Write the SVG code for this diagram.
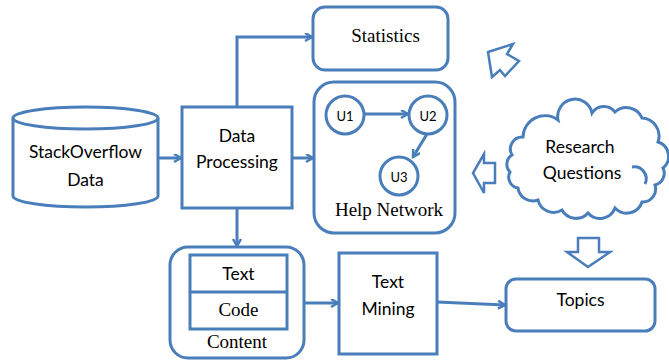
<svg xmlns="http://www.w3.org/2000/svg" width="669" height="360" viewBox="0 0 669 360">
<style>
.s{fill:#fff;stroke:#4a7ebb;stroke-width:3}
.c{fill:none;stroke:#4a7ebb;stroke-width:3}
.b{fill:#fff;stroke:#4a7ebb;stroke-width:2.5;stroke-linejoin:miter}
.t{font-family:Lato,"Open Sans",sans-serif;font-size:17.5px;fill:#000;text-anchor:middle}
.u{font-family:Lato,"Open Sans",sans-serif;font-size:13px;fill:#000;text-anchor:middle}
.r{font-size:19px;fill:#000;text-anchor:middle}
</style>
<defs>
<marker id="ah" markerWidth="10" markerHeight="10" refX="8" refY="4.5" orient="auto" markerUnits="userSpaceOnUse">
<path d="M1,0.5 L8,4.5 L1,8.5" fill="none" stroke="#4a7ebb" stroke-width="2.5"/>
</marker>
</defs>
<rect width="669" height="360" fill="#fff"/>
<g id="stackoverflow">
<path class="s" d="M13,118 L13,196 A72.5,11 0 0 0 158,196 L158,118"/>
<ellipse class="s" cx="85.5" cy="118" rx="72.5" ry="11"/>
<text class="t" x="85.5" y="158">StackOverflow</text>
<text class="t" x="85.5" y="186">Data</text>
</g>
<g id="data-processing">
<rect class="s" x="182" y="107" width="110" height="101"/>
<text class="t" x="237" y="142">Data</text>
<text class="t" x="237" y="168">Processing</text>
</g>
<g id="statistics">
<rect class="s" x="313" y="7" width="135" height="63" rx="12"/>
<text class="r" font-family="'Liberation Serif', 'Times New Roman', serif" x="385.5" y="42">Statistics</text>
</g>
<g id="help-network">
<rect class="s" x="314" y="82" width="141" height="151" rx="20"/>
<g id="u1"><circle class="s" cx="345" cy="115" r="19"/><text class="u" x="345" y="121">U1</text></g>
<g id="u2"><circle class="s" cx="428" cy="115" r="19"/><text class="u" x="428" y="121">U2</text></g>
<g id="u3"><circle class="s" cx="399" cy="176" r="19"/><text class="u" x="399" y="182">U3</text></g>
<text class="r" font-family="'Liberation Serif', 'Times New Roman', serif" x="389" y="216">Help Network</text>
</g>
<g id="content">
<rect class="s" x="170" y="247" width="134" height="111" rx="18"/>
<rect class="s" x="190" y="255" width="97" height="74"/>
<line class="c" x1="190" y1="292" x2="287" y2="292"/>
<text class="t" x="238.5" y="280">Text</text>
<text class="r" font-family="'Liberation Serif', 'Times New Roman', serif" x="238.5" y="316">Code</text>
<text class="r" font-family="'Liberation Serif', 'Times New Roman', serif" x="237" y="348">Content</text>
</g>
<g id="text-mining">
<rect class="s" x="339" y="253" width="98" height="101"/>
<text class="t" x="388" y="288">Text</text>
<text class="t" x="388" y="315">Mining</text>
</g>
<g id="topics">
<rect class="s" x="506" y="279" width="149" height="52" rx="10"/>
<text class="t" x="580.5" y="306">Topics</text>
</g>
<g id="research-questions">
<path class="s" d="M523,137 A22,22 0 0 1 558,120 A14,14 0 0 1 592,113 A14,14 0 0 1 615,112 A17,17 0 0 1 642,118 A18,18 0 0 1 658,142 A15,15 0 0 1 663,168 A12,12 0 0 1 655,185 A13,13 0 0 1 642,202 A16,16 0 0 1 615,208 A16,16 0 0 1 588,213 A16,16 0 0 1 562,210 A16,16 0 0 1 538,200 A15,15 0 0 1 518,188 A11,11 0 0 1 510,172 A11,11 0 0 1 512,155 A12,12 0 0 1 523,137 Z"/>
<path class="c" d="M632,167 A12,12 0 0 1 645,184"/>
<text class="t" x="580" y="153">Research</text>
<text class="t" x="582" y="179">Questions</text>
</g>
<g id="block-arrows">
<polygon class="b" points="578,238 599,238 599,252 610,252 588,267 567,252 578,252"/>
<polygon class="b" points="495,163 495,183 484,183 484,193 473,173 484,154 484,163"/>
<polygon class="b" points="488,52 513,44 507,54 519,61 505,76 500,70 492,77"/>
</g>
<g id="connectors">
<line class="c" x1="158" y1="158" x2="181" y2="158" marker-end="url(#ah)"/>
<line class="c" x1="292" y1="158" x2="313" y2="158" marker-end="url(#ah)"/>
<polyline class="c" points="237,107 237,37 312,37" marker-end="url(#ah)"/>
<line class="c" x1="237" y1="208" x2="237" y2="246" marker-end="url(#ah)"/>
<line class="c" x1="364" y1="114" x2="408" y2="114" marker-end="url(#ah)"/>
<line class="c" x1="427" y1="134" x2="413" y2="157" marker-end="url(#ah)"/>
<line class="c" x1="304" y1="303" x2="338" y2="303" marker-end="url(#ah)"/>
<line class="c" x1="437" y1="302" x2="505" y2="305" marker-end="url(#ah)"/>
</g>
</svg>
